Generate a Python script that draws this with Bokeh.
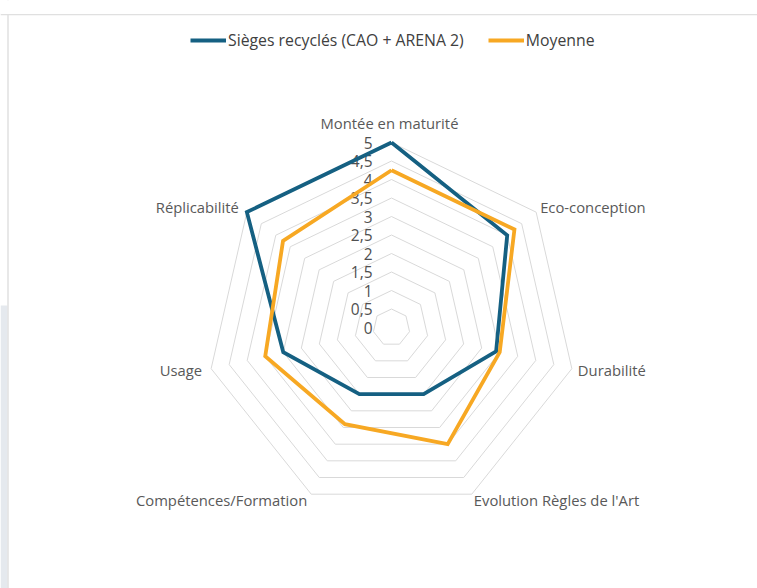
import math
from bokeh.plotting import figure
from bokeh.models import Range1d, Legend, LegendItem, Span, ColumnDataSource, BoxAnnotation
from bokeh.core.properties import value
from bokeh.embed import file_html
from bokeh.resources import INLINE

# ---------------- data ----------------
categories = ["Montée en maturité", "Eco-conception", "Durabilité",
              "Evolution Règles de l'Art", "Compétences/Formation", "Usage",
              "Réplicabilité"]
sieges = [5.0, 4.0, 2.9, 2.0, 2.0, 3.0, 5.0]
moyenne = [4.25, 4.25, 3.0, 3.5, 2.9, 3.5, 3.75]
series_names = ["Sièges recyclés (CAO + ARENA 2)", "Moyenne"]
ticks = [0, 0.5, 1, 1.5, 2, 2.5, 3, 3.5, 4, 4.5, 5]
tick_labels = ["0", "0,5", "1", "1,5", "2", "2,5", "3", "3,5", "4", "4,5", "5"]

# ---------------- style / layout ----------------
BLUE = "#156082"
ORANGE = "#F7A823"
GRID = "#d9d9d9"
TXT = "#595959"
FONT = "Open Sans"
W, H = 757, 588
SCALE = 37.0          # px per unit
CX, CY = 391, 327     # centre in figure pixels


def px_x(X):
    return (X - CX) / SCALE


def px_y(Y):
    return (CY - Y) / SCALE


p = figure(width=W, height=H, output_backend="svg", toolbar_location=None,
           x_range=Range1d(px_x(0), px_x(W)),
           y_range=Range1d(px_y(H), px_y(0)),
           min_border=0, outline_line_color=None)
p.axis.visible = False
p.grid.visible = False
p.background_fill_color = "white"
p.border_fill_color = "white"

n = len(categories)
ang = [math.pi / 2 - 2 * math.pi * k / n for k in range(n)]


def polygon(vals):
    xs = [v * math.cos(a) for v, a in zip(vals, ang)]
    ys = [v * math.sin(a) for v, a in zip(vals, ang)]
    return xs + xs[:1], ys + ys[:1]


# surroundings of the chart area
p.add_layout(BoxAnnotation(left=px_x(0), right=px_x(7), top=px_y(305),
                           bottom=px_y(H), fill_color="#e5e9ee", fill_alpha=1,
                           line_color=None))
p.add_layout(Span(location=px_y(14), dimension="width",
                  line_color="#e0e0e0", line_width=1.5))
p.add_layout(Span(location=px_x(7.5), dimension="height",
                  line_color="#e0e0e0", line_width=1.5))
p.add_layout(BoxAnnotation(left=px_x(0), right=px_x(W), top=px_y(0),
                           bottom=px_y(13.5), fill_color="white", fill_alpha=1,
                           line_color=None))

# rings
rx, ry = [], []
for t in ticks[1:]:
    xs, ys = polygon([t] * n)
    rx.append(xs)
    ry.append(ys)
p.multi_line(rx, ry, line_color=GRID, line_width=1)

# tick labels
p.text(x=[0] * len(ticks), y=ticks, text=tick_labels, x_offset=-19,
       text_align="right", text_baseline="middle", text_font=value(FONT),
       text_font_size="15.5px", text_color="#505050")

# series
sx, sy = polygon(sieges)
mx, my = polygon(moyenne)
r1 = p.line(sx, sy, line_color=BLUE, line_width=3.8, line_join="miter")
r2 = p.line(mx, my, line_color=ORANGE, line_width=3.8, line_join="miter")

# category labels
lx, ly = polygon([5] * n)
aligns = ["center", "left", "left", "left", "right", "right", "right"]
xoffs = [-2, 4, 6, 2, -4, -9, -8]
yoffs = [-20, -5, 1, 6, 6, 1, -5]
lab = ColumnDataSource(dict(x=lx[:n], y=ly[:n], text=categories, align=aligns,
                            xo=xoffs, yo=yoffs))
p.text(x="x", y="y", text="text", text_align="align", x_offset="xo",
       y_offset="yo", text_baseline="middle", source=lab,
       text_font=value(FONT), text_font_size="14.8px", text_color=TXT)

# legend
legend = Legend(items=[LegendItem(label=series_names[0], renderers=[r1]),
                       LegendItem(label=series_names[1], renderers=[r2])],
                orientation="horizontal", location=(190, H - 41 - 10),
                border_line_color=None, background_fill_alpha=0,
                padding=0, margin=0, spacing=24, glyph_width=36,
                label_standoff=2, label_text_font=FONT,
                label_text_font_size="15.8px", label_text_color="#404040")
p.add_layout(legend)

open("out.html", "w").write(file_html(p, INLINE))
